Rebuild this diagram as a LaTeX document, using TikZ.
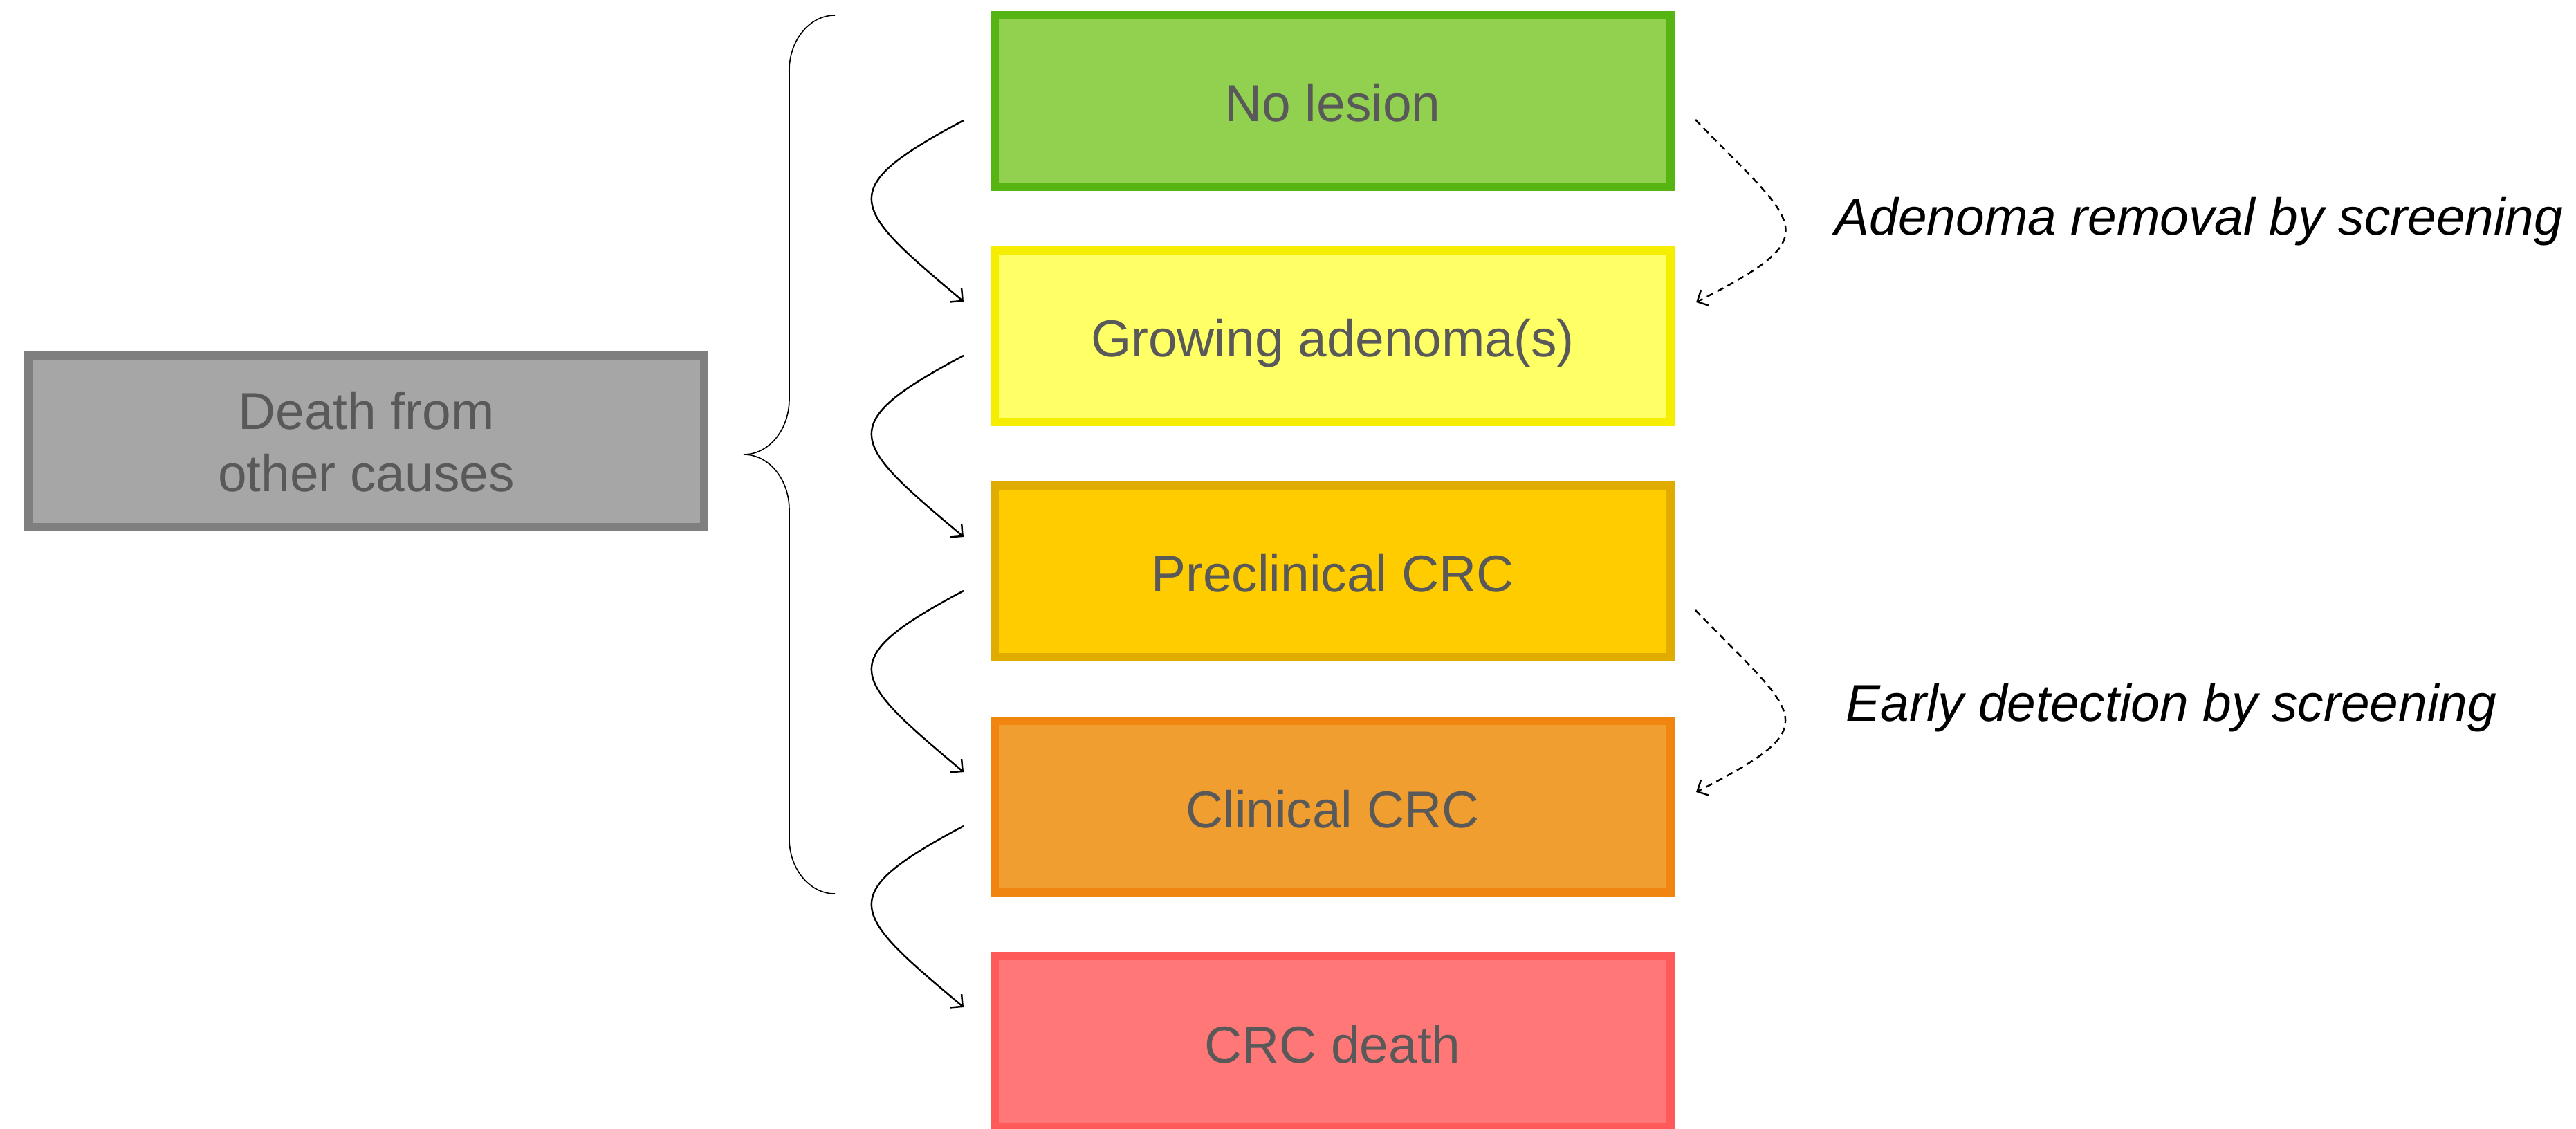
\documentclass[tikz,border=0pt]{standalone}
\usepackage{fontspec}
\setmainfont{Liberation Sans}
\usetikzlibrary{calc,arrows.meta}
\definecolor{labelgray}{HTML}{595959}
\definecolor{okfill}{HTML}{92D050}
\definecolor{okline}{HTML}{56B513}
\definecolor{adfill}{HTML}{FFFF66}
\definecolor{adline}{HTML}{F6EE00}
\definecolor{prefill}{HTML}{FFCC00}
\definecolor{preline}{HTML}{E0AC00}
\definecolor{clinfill}{HTML}{F09E30}
\definecolor{clinline}{HTML}{F08510}
\definecolor{deathfill}{HTML}{FF7777}
\definecolor{deathline}{HTML}{FF5A5A}
\definecolor{otherfill}{HTML}{A6A6A6}
\definecolor{otherline}{HTML}{7F7F7F}

\begin{document}
\begin{tikzpicture}[
		stage/.style={draw, line width=0.12cm, minimum width=9.77cm, minimum height=2.48cm, inner sep=0pt, align=center, text=labelgray, font=\fontsize{21.3}{25.6}\selectfont},
		level/.style={stage, text height=0.78cm, text depth=0.18cm},
		prog/.style={line width=0.7pt, -{Straight Barb[length=3.6pt,width=7.2pt]}},
		scr/.style={prog, dash pattern=on 2.8pt off 2pt},
		note/.style={anchor=base, font=\fontsize{21.3}{25.6}\selectfont\itshape}
	]
		%%%%% START %%%%%
		
		\useasboundingbox (0, 0) rectangle (37.24, -16.32);
		
		\node[level, draw=okline, fill=okfill] (nolesion) at (19.265, -1.46) {No lesion};
		\node[level, draw=adline, fill=adfill] (adenoma) at (19.265, -4.86) {Growing adenoma(s)};
		\node[level, draw=preline, fill=prefill] (preclin) at (19.265, -8.26) {Preclinical CRC};
		\node[level, draw=clinline, fill=clinfill] (clinical) at (19.265, -11.66) {Clinical CRC};
		\node[level, draw=deathline, fill=deathfill] (crcdeath) at (19.265, -15.06) {CRC death};
		
		\node[stage, draw=otherline, fill=otherfill] (othercause) at (5.295, -6.385) {Death from\\other causes};
		
		\draw[line width=0.45pt] (12.07, -0.22) arc[start angle=90, end angle=180, x radius=0.66, y radius=0.8] -- (11.41, -5.77)
			arc[start angle=0, end angle=-90, x radius=0.66, y radius=0.8]
			arc[start angle=90, end angle=0, x radius=0.66, y radius=0.8] -- (11.41, -12.12)
			arc[start angle=180, end angle=270, x radius=0.66, y radius=0.8];
		
		\draw[prog] ($(nolesion.west)+(-0.39, -0.28)$) to[out=208, in=140, looseness=2.1] ($(adenoma.west)+(-0.39, 0.5)$);
		\draw[prog] ($(adenoma.west)+(-0.39, -0.28)$) to[out=208, in=140, looseness=2.1] ($(preclin.west)+(-0.39, 0.5)$);
		\draw[prog] ($(preclin.west)+(-0.39, -0.28)$) to[out=208, in=140, looseness=2.1] ($(clinical.west)+(-0.39, 0.5)$);
		\draw[prog] ($(clinical.west)+(-0.39, -0.28)$) to[out=208, in=140, looseness=2.1] ($(crcdeath.west)+(-0.39, 0.5)$);
		
		\draw[scr] ($(nolesion.east)+(0.30, -0.27)$) to[out=-46, in=27, looseness=2.1] ($(adenoma.east)+(0.31, 0.49)$);
		\draw[scr] ($(preclin.east)+(0.30, -0.56)$) to[out=-46, in=27, looseness=2.1] ($(clinical.east)+(0.31, 0.21)$);
		
		\node[note] (removal) at (31.79, -3.40) {Adenoma removal by screening};
		\node[note] (detection) at (31.39, -10.42) {Early detection by screening};
		
		%%%%% END %%%%%
	\end{tikzpicture}
\end{document}
